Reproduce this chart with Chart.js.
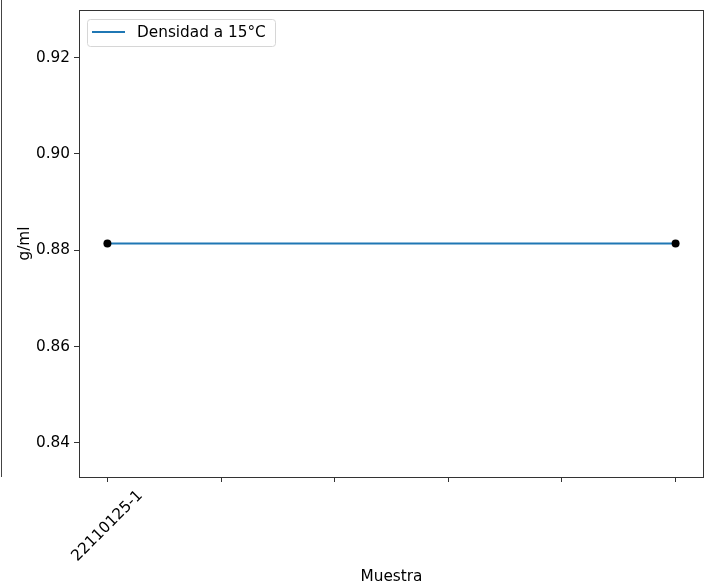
<!DOCTYPE html>
<html>
<head>
<meta charset="utf-8">
<script src="https://cdn.jsdelivr.net/npm/chart.js@4.4.0/dist/chart.umd.min.js"></script>
<style>
  body { margin: 0; background: #fff; }
  #wrap { width: 712px; height: 587px; }
</style>
</head>
<body>
<div id="wrap"><canvas id="myChart" width="712" height="587"></canvas></div>
<script>
// muestras y densidad medida
const xTicks = [0, 1, 2, 3, 4, 5];
const xTickLabels = ['22110125-1', '', '', '', '', ''];
const posiciones = [0, 5];
const densidad = [0.8814, 0.8814];
const yTicks = [0.84, 0.86, 0.88, 0.90, 0.92];

const FONT = '"DejaVu Sans", sans-serif';
const FS = 15.3;

const puntos = posiciones.map((x, i) => ({ x: x, y: densidad[i] }));

// marco, leyenda, etiquetas rotadas y titulos de ejes
const extras = {
  id: 'extras',
  afterDraw(chart) {
    const ctx = chart.ctx;
    const a = chart.chartArea;
    const xs = chart.scales.x;
    ctx.save();

    // linea suelta a la izquierda
    ctx.strokeStyle = '#444';
    ctx.lineWidth = 1;
    ctx.beginPath();
    ctx.moveTo(1.5, 0);
    ctx.lineTo(1.5, a.bottom);
    ctx.stroke();

    // marco del grafico
    ctx.strokeStyle = '#333';
    ctx.lineWidth = 1;
    ctx.strokeRect(a.left + 0.5, a.top + 0.5, a.right - a.left - 1, a.bottom - a.top);

    // etiquetas del eje x a 45 grados
    ctx.font = FS + 'px ' + FONT;
    ctx.fillStyle = '#000';
    ctx.textAlign = 'center';
    ctx.textBaseline = 'middle';
    xTicks.forEach((t, i) => {
      const txt = xTickLabels[i];
      if (!txt) return;
      const w = ctx.measureText(txt).width;
      const h = FS * 1.15;
      const half = (w + h) * Math.SQRT1_2 / 2;
      ctx.save();
      ctx.translate(xs.getPixelForValue(t), a.bottom + 10 + half);
      ctx.rotate(-Math.PI / 4);
      ctx.fillText(txt, 0, 0);
      ctx.restore();
    });

    // titulos
    ctx.textBaseline = 'alphabetic';
    ctx.fillText('Muestra', (a.left + a.right) / 2, 581);
    ctx.save();
    ctx.translate(29, (a.top + a.bottom) / 2);
    ctx.rotate(-Math.PI / 2);
    ctx.fillText('g/ml', 0, 0);
    ctx.restore();

    // leyenda
    const ds = chart.data.datasets[0];
    const lx = 87, ly = 19, lw = 188, lh = 27;
    ctx.fillStyle = 'rgba(255,255,255,0.8)';
    ctx.strokeStyle = '#d6d6d6';
    ctx.lineWidth = 1;
    ctx.beginPath();
    ctx.roundRect(lx + 0.5, ly + 0.5, lw, lh, 3);
    ctx.fill();
    ctx.stroke();
    ctx.strokeStyle = ds.borderColor;
    ctx.lineWidth = 2;
    ctx.beginPath();
    ctx.moveTo(92, 32);
    ctx.lineTo(125, 32);
    ctx.stroke();
    ctx.fillStyle = '#000';
    ctx.textAlign = 'left';
    ctx.textBaseline = 'middle';
    ctx.fillText(ds.label, 137, 33);

    ctx.restore();
  }
};

const chart = new Chart(document.getElementById('myChart'), {
  type: 'line',
  data: {
    datasets: [
      {
        label: 'Densidad a 15°C',
        data: puntos,
        borderColor: '#1f77b4',
        borderWidth: 2,
        pointRadius: 0,
        fill: false,
        order: 2
      },
      {
        type: 'scatter',
        label: 'puntos',
        data: puntos,
        backgroundColor: '#000',
        borderColor: '#000',
        pointRadius: 4,
        borderWidth: 0,
        order: 1
      }
    ]
  },
  options: {
    responsive: false,
    animation: false,
    events: [],
    layout: { padding: { top: 0, right: 8, left: 0, bottom: 0 } },
    plugins: {
      legend: { display: false },
      tooltip: { enabled: false }
    },
    scales: {
      x: {
        type: 'linear',
        min: -0.25,
        max: 5.25,
        afterBuildTicks: s => { s.ticks = xTicks.map(v => ({ value: v })); },
        afterFit: s => { s.height = 110; },
        ticks: { display: false },
        border: { display: false },
        grid: { drawOnChartArea: false, drawTicks: true, tickLength: 5, color: '#333', tickWidth: 1 }
      },
      y: {
        min: 0.83292,
        max: 0.92988,
        afterBuildTicks: s => { s.ticks = yTicks.map(v => ({ value: v })); },
        afterFit: s => { s.width = 79; s.paddingTop = 10; },
        ticks: {
          padding: 4,
          color: '#000',
          font: { family: FONT, size: FS },
          callback: v => v.toFixed(2)
        },
        border: { display: false },
        grid: { drawOnChartArea: false, drawTicks: true, tickLength: 5, color: '#333', tickWidth: 1 }
      }
    }
  },
  plugins: [extras]
});
</script>
</body>
</html>
